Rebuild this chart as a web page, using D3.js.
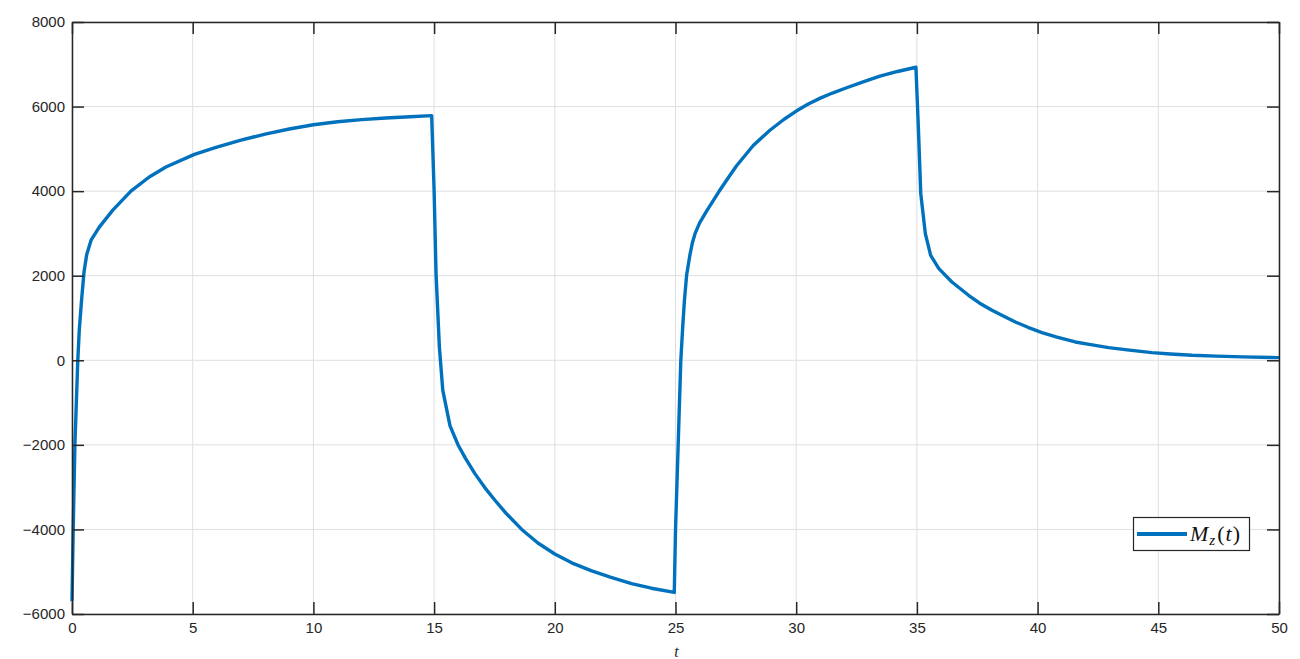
<!DOCTYPE html>
<html>
<head>
<meta charset="utf-8">
<script src="https://cdn.jsdelivr.net/npm/d3@7"></script>
<style>
  html, body { margin: 0; padding: 0; background: #fff; }
  svg { display: block; }
</style>
</head>
<body>
<svg id="chart" width="1300" height="659"></svg>
<script>
// ---- data ----
const timeValues = [
  0, 0.05, 0.12, 0.24, 0.30, 0.40, 0.50, 0.61, 0.79, 1.13, 1.69, 2.44, 3.20, 3.89, 5.07,
  6, 7, 8, 9, 10, 11, 12, 13, 14, 14.9,
  15.0, 15.08, 15.22, 15.36, 15.66, 16.0, 16.3, 16.69, 17.1, 17.52, 18.0, 18.63, 19.3, 20.0,
  20.7, 21.53, 22.3, 23.18, 24.0, 24.95,
  25.0, 25.11, 25.22, 25.3, 25.37, 25.46, 25.6, 25.7, 25.81, 26.0, 26.3, 26.8, 27.2, 27.53,
  28.22, 28.91, 29.5, 30.02, 30.5, 31.0, 31.5, 32.09, 32.8, 33.47, 34.2, 34.96,
  35.06, 35.16, 35.35, 35.57, 35.91, 36.45, 37.14, 37.6, 38.11, 38.6, 39.08, 39.6, 40.18,
  40.8, 41.56, 42.2, 42.94, 43.8, 44.74, 45.5, 46.4, 47.4, 48.5, 50
];
const mzValues = [
  -5700, -4000, -2000, 0, 700, 1450, 2100, 2500, 2840, 3150, 3550, 4000, 4335, 4570, 4870,
  5040, 5205, 5350, 5470, 5570, 5640, 5690, 5730, 5760, 5785,
  4020, 2050, 300, -710, -1550, -2010, -2320, -2680, -3010, -3310, -3630, -4000, -4320, -4580,
  -4790, -4980, -5130, -5280, -5390, -5490,
  -4020, -2010, 0, 800, 1419, 2010, 2500, 2780, 2995, 3250, 3540, 3990, 4330, 4600,
  5080, 5440, 5700, 5900, 6060, 6200, 6320, 6445, 6590, 6720, 6830, 6930,
  5517, 3941, 2995, 2483, 2168, 1852, 1537, 1350, 1182, 1040, 906, 780, 655,
  550, 433, 370, 300, 240, 182, 150, 118, 98, 80, 63
];
const xTicks = [0, 5, 10, 15, 20, 25, 30, 35, 40, 45, 50];
const yTicks = [-6000, -4000, -2000, 0, 2000, 4000, 6000, 8000];
const xDomain = [0, 50];
const yDomain = [-6000, 8000];

// ---- layout ----
const svg = d3.select("#chart");
const padL = 72, padR = 1279, padT = 22, padB = 614;
const x = d3.scaleLinear().domain(xDomain).range([padL, padR]);
const y = d3.scaleLinear().domain(yDomain).range([padB, padT]);
const axisColor = "#262626";
const gridColor = "#dfdfdf";
const tickLen = 12;

// grid
const g = svg.append("g");
g.selectAll(".gx").data(xTicks).join("line")
  .attr("x1", d => x(d)).attr("x2", d => x(d))
  .attr("y1", padT).attr("y2", padB)
  .attr("stroke", gridColor).attr("stroke-width", 1);
g.selectAll(".gy").data(yTicks).join("line")
  .attr("x1", padL).attr("x2", padR)
  .attr("y1", d => y(d)).attr("y2", d => y(d))
  .attr("stroke", gridColor).attr("stroke-width", 1);

// data line
const line = d3.line()
  .x((d, i) => x(timeValues[i]))
  .y(d => y(d));
svg.append("path")
  .datum(mzValues)
  .attr("d", line)
  .attr("fill", "none")
  .attr("stroke", "#0072BD")
  .attr("stroke-width", 3.4)
  .attr("stroke-linejoin", "round");

// axes (MATLAB-like, ticks inward, box on)
const fontFam = "'Liberation Sans', Arial, Helvetica, sans-serif";
const xAxisB = d3.axisBottom(x).tickValues(xTicks).tickSizeInner(-tickLen).tickSizeOuter(0).tickPadding(8).tickFormat(d3.format("d"));
const xAxisT = d3.axisTop(x).tickValues(xTicks).tickSizeInner(-tickLen).tickSizeOuter(0).tickFormat("");
const yAxisL = d3.axisLeft(y).tickValues(yTicks).tickSizeInner(-tickLen).tickSizeOuter(0).tickPadding(7).tickFormat(d3.format("d"));
const yAxisR = d3.axisRight(y).tickValues(yTicks).tickSizeInner(-tickLen).tickSizeOuter(0).tickFormat("");

function styleAxis(sel) {
  sel.selectAll("path").attr("stroke", axisColor).attr("stroke-width", 1.5);
  sel.selectAll("line").attr("stroke", axisColor).attr("stroke-width", 1.5);
  sel.selectAll("text").attr("fill", axisColor).style("font-family", fontFam).style("font-size", "15px");
}
svg.append("g").attr("transform", `translate(0,${padB})`).call(xAxisB).call(styleAxis);
svg.append("g").attr("transform", `translate(0,${padT})`).call(xAxisT).call(styleAxis);
svg.append("g").attr("transform", `translate(${padL},0)`).call(yAxisL).call(styleAxis);
svg.append("g").attr("transform", `translate(${padR},0)`).call(yAxisR).call(styleAxis);

// x label
svg.append("text")
  .attr("x", (padL + padR) / 2 + 1).attr("y", 657)
  .attr("text-anchor", "middle")
  .style("font-family", "'Liberation Serif', 'DejaVu Serif', serif")
  .style("font-style", "italic")
  .style("font-size", "16px")
  .attr("fill", axisColor)
  .text("t");

// legend
const lg = svg.append("g");
lg.append("rect")
  .attr("x", 1133.5).attr("y", 517.5).attr("width", 116).attr("height", 33)
  .attr("fill", "#fff").attr("stroke", axisColor).attr("stroke-width", 1.2);
lg.append("line")
  .attr("x1", 1137).attr("x2", 1187).attr("y1", 534).attr("y2", 534)
  .attr("stroke", "#0072BD").attr("stroke-width", 4);
const lt = lg.append("text")
  .attr("x", 1190).attr("y", 541)
  .style("font-family", "'Liberation Serif', 'DejaVu Serif', serif")
  .style("font-size", "22px")
  .attr("fill", "#111");
lt.append("tspan").style("font-style", "italic").text("M");
lt.append("tspan").style("font-style", "italic").style("font-size", "15px").attr("dy", 4).attr("dx", 1).text("z");
lt.append("tspan").attr("dy", -4).attr("dx", 2).text("(");
lt.append("tspan").style("font-style", "italic").attr("dx", 1).text("t");
lt.append("tspan").attr("dx", 1).text(")");
</script>
</body>
</html>
